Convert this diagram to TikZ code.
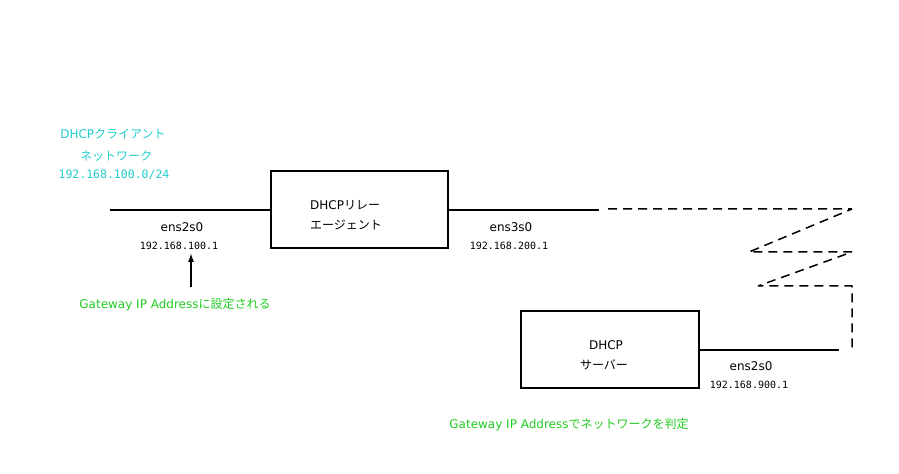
\documentclass[tikz,border=0pt]{standalone}
\usepackage{fontspec}
\setmainfont{DejaVu Sans}
\newfontfamily\jp{Noto Sans CJK JP}
\newfontfamily\mono{DejaVu Sans Mono}
\usetikzlibrary{arrows.meta}
\definecolor{cyantext}{HTML}{22CCCC}
\definecolor{greentext}{HTML}{22CC22}
\tikzset{
  wire/.style={line width=1.5bp},
  dwire/.style={line width=1.5bp, dash pattern=on 9bp off 6bp, line join=bevel},
  boxnode/.style={draw, line width=1.5bp, inner sep=0pt},
  lbl/.style={font=\fontsize{12bp}{14bp}\selectfont, inner sep=0pt},
  addr/.style={font=\mono\fontsize{10bp}{12bp}\selectfont, inner sep=0pt},
}
\begin{document}
\begin{tikzpicture}[x=1bp,y=-1bp]
\useasboundingbox (0,0) rectangle (899,474);
% boxes
\node[boxnode, minimum width=177bp, minimum height=77bp] (relay) at (359.5,209.5) {};
\node[boxnode, minimum width=178bp, minimum height=77bp] (server) at (610,349.5) {};
\node[lbl, anchor=west] (relayt1) at (310,205) {DHCP{\jp リレー}};
\node[lbl, anchor=west] (relayt2) at (310,225) {\jp エージェント};
\node[lbl] (servt1) at (606,345) {DHCP};
\node[lbl] (servt2) at (604,365) {\jp サーバー};
% client network
\node[lbl, text=cyantext] (cl1) at (113,134) {DHCP{\jp クライアント}};
\node[lbl, text=cyantext] (cl2) at (116,156) {\jp ネットワーク};
\node[addr, text=cyantext, font=\mono\fontsize{11.5bp}{13bp}\selectfont] (cl3) at (114,175) {192.168.100.0/24};
% wires
\coordinate (lend) at (110,210);
\draw[wire] (lend) -- (relay.west |- lend);
\coordinate (rend) at (599,210);
\draw[wire] (relay.east |- rend) -- (rend);
\coordinate (d0) at (608,209);
\coordinate (d1) at (852,209);
\coordinate (d2) at (749,252);
\coordinate (d3) at (852,252);
\coordinate (d4) at (758,286);
\coordinate (d5) at (852,286);
\coordinate (d6) at (852,350);
\draw[dwire] (d0) -- (d1) -- (d2) -- (d3) -- (d4) -- (d5) -- (d6);
\coordinate (send) at (839,350);
\draw[wire] (server.east |- send) -- (send);
% labels
\node[lbl] (if1) at (182,227) {ens2s0};
\node[addr] (ip1) at (179,246) {192.168.100.1};
\node[lbl] (if2) at (511,227) {ens3s0};
\node[addr] (ip2) at (509,246) {192.168.200.1};
\node[lbl] (if3) at (751,366) {ens2s0};
\node[addr] (ip3) at (749,385) {192.168.900.1};
% arrow
\coordinate (atail) at (191,287);
\coordinate (ahead) at (191,253);
\draw[line width=1.5bp, -{Latex[length=9bp,width=6bp]}] (atail) -- (ahead);
\node[lbl, text=greentext] (g1) at (175,305) {Gateway IP Address{\jp に設定される}};
\node[lbl, text=greentext] (g2) at (569,425) {Gateway IP Address{\jp でネットワークを判定}};
\end{tikzpicture}
\end{document}
